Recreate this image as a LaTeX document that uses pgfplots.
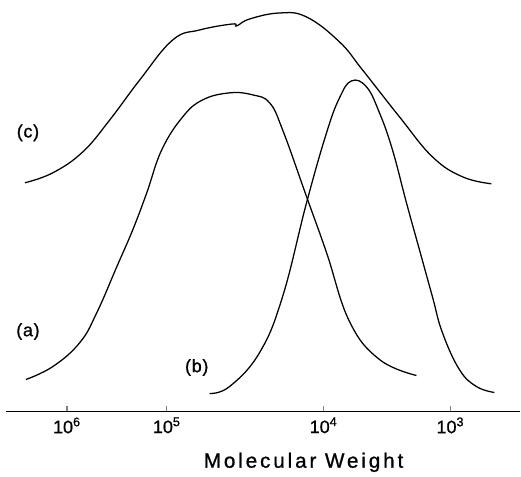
\documentclass[border=0pt]{standalone}
\usepackage{fontspec}
\setmainfont{Liberation Sans}
\newfontfamily\lbl{Liberation Sans}[FakeBold=0.9]
\usepackage{pgfplots}
\pgfplotsset{compat=1.18}

\begin{document}
\begin{tikzpicture}
\begin{axis}[
  x=0.75pt, y=0.75pt,
  xmin=6, xmax=521, ymin=63, ymax=475,
  axis x line*=bottom, axis y line=none,
  clip=false,
  axis line style={line width=1.1pt},
  xtick={67,167,324,451},
  xticklabels={10\textsuperscript{6},10\textsuperscript{5},10\textsuperscript{4},10\textsuperscript{3}},
  tick align=inside, major tick length=4pt,
  tick style={line width=0.9pt},
  xticklabel style={font=\lbl\fontsize{13.5}{15}\selectfont, yshift=-1pt},
  curve/.style={black, line width=0.95pt, no markers, smooth, tension=0.7},
]
\path (axis cs:0,0) (axis cs:521,475);
% (c)
\addplot[curve] coordinates {(25,292) (53,302) (83,323) (110,355) (140,395) (173,435) (200,445)
  (233,451) (237,449) (250,456) (280,462) (307,458) (340,433) (363,405) (400,358)
  (433,318) (463,298) (492,291)};
% (a)
\addplot[curve] coordinates {(26,95) (53,108) (80,132) (97,162) (117,208) (133,245) (147,282)
  (162,325) (183,358) (203,375) (230,382) (253,380) (270,372) (283,345) (307,278)
  (327,222) (350,153) (380,115) (417,99)};
% (b)
\addplot[curve] coordinates {(210,81) (230,88) (260,122) (283,178) (307,272) (327,342)
  (340,377) (352,394) (367,388) (380,362) (393,325) (407,272) (420,225) (433,178)
  (443,142) (460,105) (477,88) (495,82)};
\node[font=\lbl\fontsize{13.5}{15}\selectfont\addfontfeatures{LetterSpace=4}] at (axis cs:28,342) {(c)};
\node[font=\lbl\fontsize{13.5}{15}\selectfont\addfontfeatures{LetterSpace=4}] at (axis cs:28,143) {(a)};
\node[font=\lbl\fontsize{13.5}{15}\selectfont\addfontfeatures{LetterSpace=4}] at (axis cs:197,107) {(b)};
\node[font=\lbl\fontsize{15.5}{17}\selectfont\addfontfeatures{LetterSpace=14}] at (axis cs:304,12) {Molecular Weight};
\end{axis}
\end{tikzpicture}
\end{document}
